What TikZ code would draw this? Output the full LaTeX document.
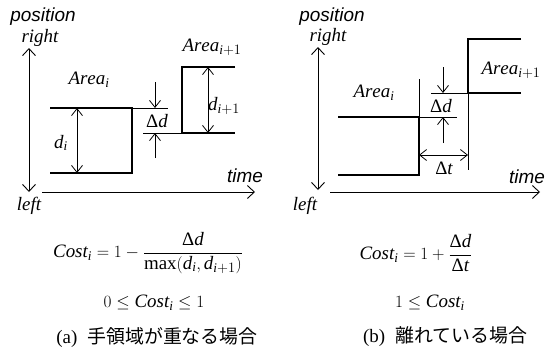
\documentclass[tikz,border=0pt]{standalone}
\usepackage{amsmath}
\usepackage{fontspec}
\setmainfont{Liberation Serif}
\newfontfamily\axisfont{Liberation Sans}
\newfontfamily\jpfont{Noto Sans CJK JP}
\usetikzlibrary{arrows.meta}

\begin{document}
\begin{tikzpicture}[
  x=1bp, y=-1bp,
  arealine/.style={line width=2.6bp, line join=miter},
  guide/.style={line width=0.8bp},
  axis/.style={line width=0.9bp, -{Straight Barb[length=7bp,width=13bp]}},
  biaxis/.style={line width=0.9bp, {Straight Barb[length=7bp,width=13bp]}-{Straight Barb[length=7bp,width=13bp]}},
  dim/.style={line width=0.8bp, -{Straight Barb[length=7bp,width=11bp]}},
  bidim/.style={line width=0.8bp, {Straight Barb[length=7bp,width=11bp]}-{Straight Barb[length=7bp,width=11bp]}},
  axlbl/.style={font=\axisfont\itshape\fontsize{19}{21}\selectfont, inner sep=0pt},
  dirlbl/.style={font=\itshape\fontsize{19}{21}\selectfont, inner sep=0pt},
  lbl/.style={font=\fontsize{19}{22}\selectfont, inner sep=0pt},
  formula/.style={font=\fontsize{19}{22}\selectfont, inner sep=0pt},
  caption/.style={font=\fontsize{19}{22}\selectfont, inner sep=0pt},
]
\useasboundingbox (0,0) rectangle (550,354);

% ---------- (a) overlapping areas ----------
% axes
\coordinate (la-top) at (29,48);
\coordinate (la-bot) at (29,192);
\coordinate (la-t0) at (42,192);
\coordinate (la-t1) at (255,192);
\draw[biaxis] (la-top) -- (la-bot);
\draw[axis] (la-t0) -- (la-t1);
\node[axlbl] (la-pos) at (43,17) {position};
\node[dirlbl] (la-right) at (40,38) {right};
\node[dirlbl] (la-left) at (29,206) {left};
\node[axlbl] (la-time) at (245,176) {time};

% Area_i
\coordinate (ai-tl) at (50,108);
\coordinate (ai-tr) at (132,108);
\coordinate (ai-br) at (132,173);
\coordinate (ai-bl) at (50,173);
\draw[arealine] (ai-tl) -- (ai-tr) -- (ai-br) -- (ai-bl);
\coordinate (ai-ext) at (168,108);
\draw[guide] (ai-tr) -- (ai-ext);
\node[lbl] (ai-lbl) at (89,80) {$\mathit{Area}_{\mathit{i}}$};

% Area_{i+1}
\coordinate (aj-tr) at (235,67);
\coordinate (aj-tl) at (182,67);
\coordinate (aj-bl) at (182,133);
\coordinate (aj-br) at (235,133);
\draw[arealine] (aj-tr) -- (aj-tl) -- (aj-bl) -- (aj-br);
\coordinate (aj-ext) at (143,133);
\draw[guide] (aj-ext) -- (aj-bl);
\node[lbl] (aj-lbl) at (212,47) {$\mathit{Area}_{\mathit{i}+1}$};

% widths d_i, d_{i+1}
\coordinate (di-top) at (77,108);
\coordinate (di-bot) at (77,173);
\draw[bidim] (di-top) -- (di-bot);
\node[lbl] (di-lbl) at (61,143) {$\mathit{d}_{\mathit{i}}$};
\coordinate (dj-top) at (208,67);
\coordinate (dj-bot) at (208,133);
\draw[bidim] (dj-top) -- (dj-bot);
\node[lbl] (dj-lbl) at (224,106) {$\mathit{d}_{\mathit{i}+1}$};

% gap Delta d
\coordinate (dd-a0) at (155,82);
\coordinate (dd-a1) at (155,108);
\coordinate (dd-b0) at (155,158);
\coordinate (dd-b1) at (155,133);
\draw[dim] (dd-a0) -- (dd-a1);
\draw[dim] (dd-b0) -- (dd-b1);
\node[lbl] (dd-lbl) at (157,121) {$\text{Δ}\mathit{d}$};

% cost
\node[formula] (cost-a) at (148,253)
  {$\mathit{Cost}_{\mathit{i}} = 1 - \dfrac{\text{Δ}\mathit{d}}{\max(\mathit{d}_{\mathit{i}},\mathit{d}_{\mathit{i}+1})}$};
\node[formula] (range-a) at (154,303) {$0 \le \mathit{Cost}_{\mathit{i}} \le 1$};
\node[caption] (cap-a) at (157,337) {(a)\hspace{10bp}{\jpfont 手領域が重なる場合}};

% ---------- (b) separated areas ----------
% axes
\coordinate (lb-top) at (318,47);
\coordinate (lb-bot) at (318,190);
\coordinate (lb-t0) at (330,192);
\coordinate (lb-t1) at (540,192);
\draw[biaxis] (lb-top) -- (lb-bot);
\draw[axis] (lb-t0) -- (lb-t1);
\node[axlbl] (lb-pos) at (332,17) {position};
\node[dirlbl] (lb-right) at (328,37) {right};
\node[dirlbl] (lb-left) at (305,206) {left};
\node[axlbl] (lb-time) at (527,177) {time};

% Area_i
\coordinate (bi-tl) at (338,117);
\coordinate (bi-tr) at (419,117);
\coordinate (bi-br) at (419,175);
\coordinate (bi-bl) at (338,175);
\draw[arealine] (bi-tl) -- (bi-tr) -- (bi-br) -- (bi-bl);
\coordinate (bi-up) at (419,79);
\coordinate (bi-ext) at (457,117);
\draw[guide] (bi-up) -- (bi-tr) -- (bi-ext);
\node[lbl] (bi-lbl) at (374,93) {$\mathit{Area}_{\mathit{i}}$};

% Area_{i+1}
\coordinate (bj-tr) at (521,39);
\coordinate (bj-tl) at (468,39);
\coordinate (bj-bl) at (468,93);
\coordinate (bj-br) at (521,93);
\draw[arealine] (bj-tr) -- (bj-tl) -- (bj-bl) -- (bj-br);
\coordinate (bj-ext) at (431,93);
\coordinate (bj-down) at (468,170);
\draw[guide] (bj-ext) -- (bj-bl) -- (bj-down);
\node[lbl] (bj-lbl) at (511,70) {$\mathit{Area}_{\mathit{i}+1}$};

% gap Delta d and Delta t
\coordinate (ed-a0) at (443,67);
\coordinate (ed-a1) at (443,93);
\coordinate (ed-b0) at (443,143);
\coordinate (ed-b1) at (443,117);
\draw[dim] (ed-a0) -- (ed-a1);
\draw[dim] (ed-b0) -- (ed-b1);
\node[lbl] (ed-lbl) at (441,106) {$\text{Δ}\mathit{d}$};
\coordinate (et-l) at (419,155);
\coordinate (et-r) at (468,155);
\draw[bidim] (et-l) -- (et-r);
\node[lbl] (et-lbl) at (444,168) {$\text{Δ}\mathit{t}$};

% cost
\node[formula] (cost-b) at (416,253)
  {$\mathit{Cost}_{\mathit{i}} = 1 + \dfrac{\text{Δ}\mathit{d}}{\text{Δ}\mathit{t}}$};
\node[formula] (range-b) at (430,303) {$1 \le \mathit{Cost}_{\mathit{i}}$};
\node[caption] (cap-b) at (445,337) {(b)\hspace{10bp}{\jpfont 離れている場合}};

\end{tikzpicture}
\end{document}
